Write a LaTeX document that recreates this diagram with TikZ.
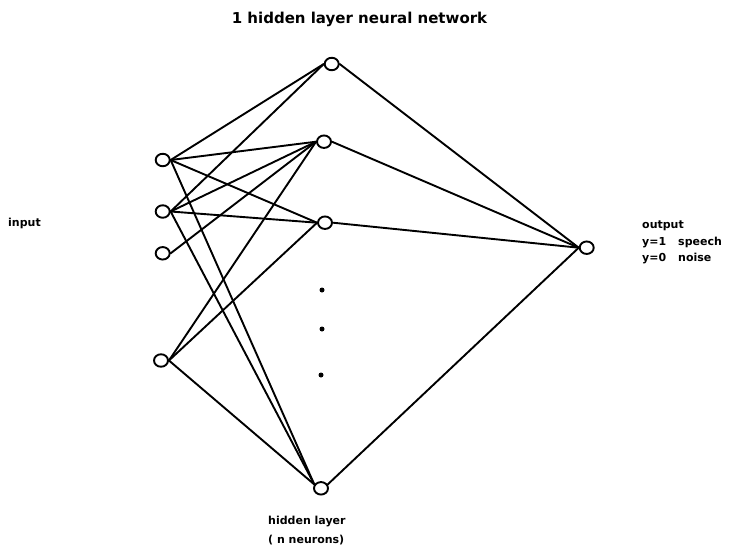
\documentclass[tikz,border=0pt]{standalone}
\usepackage{fontspec}
\setmainfont{DejaVu Sans}
\usetikzlibrary{shapes.geometric}
\begin{document}
\begin{tikzpicture}[x=1pt,y=-1pt,
  neuron/.style={draw, ellipse, line width=1.9pt, minimum width=14pt, minimum height=12.5pt, inner sep=0pt},
  conn/.style={line width=1.9pt, line cap=round},
  dotmark/.style={fill, circle, inner sep=0pt, minimum size=5pt},
  lbl/.style={font=\bfseries\fontsize{11}{16.5}\selectfont, inner sep=0pt, align=left},
  ttl/.style={font=\bfseries\fontsize{15}{18}\selectfont, inner sep=0pt}]
\useasboundingbox (0,0) rectangle (746,557);
% input layer
\node[neuron] (i1) at (162.7,160) {};
\node[neuron] (i2) at (162.7,211.5) {};
\node[neuron] (i3) at (162.7,253.3) {};
\node[neuron] (i4) at (161,360.5) {};
% hidden layer
\node[neuron] (h1) at (331.7,64) {};
\node[neuron] (h2) at (324,141.7) {};
\node[neuron] (h3) at (325,222.7) {};
\node[neuron] (h4) at (321,488.3) {};
% output
\node[neuron] (o) at (586.7,247.7) {};
% dots
\node[dotmark] (d1) at (322,290) {};
\node[dotmark] (d2) at (322,329) {};
\node[dotmark] (d3) at (321,375) {};
% connections input -> hidden
\draw[conn] (i1.east) -- (h1.west);
\draw[conn] (i1.east) -- (h2.west);
\draw[conn] (i1.east) -- (h3.west);
\draw[conn] (i1.east) -- (h4.150);
\draw[conn] (i2.east) -- (h1.west);
\draw[conn] (i2.east) -- (h2.west);
\draw[conn] (i2.east) -- (h3.west);
\draw[conn] (i2.east) -- (h4.150);
\draw[conn] (i3.east) -- (h2.west);
\draw[conn] (i4.east) -- (h2.west);
\draw[conn] (i4.east) -- (h3.west);
\draw[conn] (i4.east) -- (h4.150);
% hidden -> output
\draw[conn] (h1.east) -- (o.west);
\draw[conn] (h2.east) -- (o.west);
\draw[conn] (h3.east) -- (o.west);
\draw[conn] (h4.30) -- (o.west);
% labels
\node[ttl] (title) at (359.5,19) {1 hidden layer neural network};
\node[lbl, anchor=base west] (inlbl) at (8,226.5) {input};
\node[lbl, anchor=north west] (outlbl) at (642,221) {output\\\makebox[36pt][l]{y=1}speech\\\makebox[36pt][l]{y=0}noise};
\node[lbl, anchor=north west, font=\bfseries\fontsize{11}{19}\selectfont] (hidlbl) at (268,516) {hidden layer\\( n neurons)};
\end{tikzpicture}
\end{document}
